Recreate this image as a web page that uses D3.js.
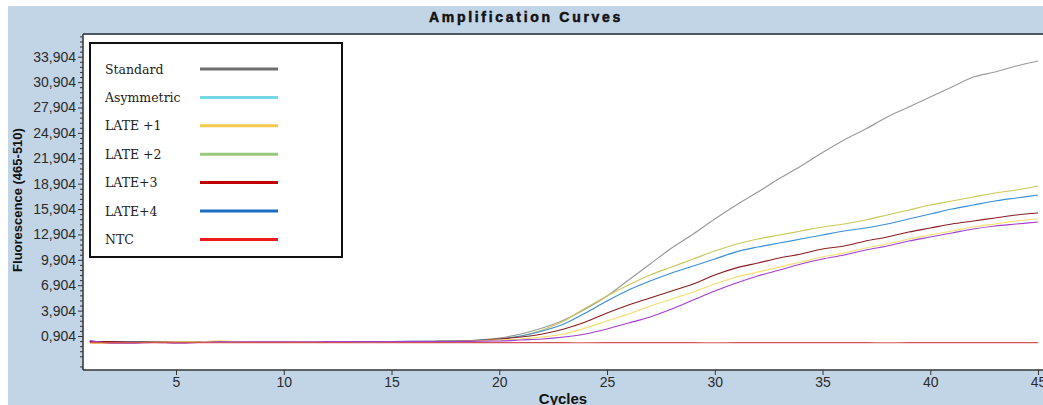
<!DOCTYPE html>
<html>
<head>
<meta charset="utf-8">
<script src="https://cdn.jsdelivr.net/npm/d3@7"></script>
<style>
  body { margin: 0; background: #fff; }
  .tick text { font-family: "Liberation Sans", Arial, sans-serif; font-size: 14px; fill: #2b2b2b; }
  .tick line { stroke: #333; }
  .domain { display: none; }
</style>
</head>
<body>
<div id="vis"></div>
<script>
// cycles 1..45
var cycles = d3.range(1, 46);

var standard = [260,180,160,160,170,215,220,225,230,225,228,232,238,245,250,258,270,300,420,
  668,1140,1849,2794,4094,5630,7520,9411,11301,12955,14728,16382,17918,19501,20990,22573,24061,25361,26779,27960,29142,30323,31505,32096,32805,33395];
var late2 = [220,190,200,215,205,210,230,225,228,232,230,235,238,240,245,250,265,290,380,
  550,904,1613,2676,4212,5630,6930,8111,9056,10002,10947,11750,12365,12837,13310,13782,14137,14609,15200,15791,16382,16854,17327,17799,18154,18627];
var late4 = [240,210,205,200,215,220,222,235,240,238,236,240,245,250,255,262,280,320,400,
  550,904,1495,2322,3621,5039,6339,7402,8347,9175,10002,10850,11419,11892,12365,12837,13310,13664,14137,14728,15318,15909,16382,16854,17209,17563];
var late3 = [250,230,180,200,210,215,225,240,238,235,240,245,240,235,238,245,255,280,360,
  550,786,1140,1731,2558,3621,4567,5394,6221,7048,8111,8950,9529,10120,10592,11183,11538,12128,12601,13192,13664,14137,14491,14846,15200,15436];
var late1 = [20,40,80,190,200,205,320,230,220,225,228,230,235,240,242,248,255,270,330,
  431,550,786,1140,1849,2676,3503,4449,5276,6103,7048,7875,8466,9056,9647,10238,10710,11301,11774,12365,12837,13310,13782,14137,14491,14728];
var asymmetric = [350,60,60,160,50,140,200,210,215,220,225,228,230,232,235,240,245,255,290,
  313,431,550,786,1140,1731,2440,3149,4094,5157,6221,7166,7993,8702,9411,10002,10474,11065,11538,12128,12601,13073,13546,13901,14137,14373];
var ntc = [120,115,112,110,112,110,108,110,112,110,110,112,110,108,110,112,110,110,112,
  110,110,112,110,108,110,110,112,110,110,108,110,112,110,110,110,112,110,108,110,110,112,110,110,110,110];

var curves = [standard, late2, late4, late3, late1, asymmetric, ntc];
var curveColors = ["#9b9b9b", "#c9c85a", "#3b8fd4", "#8a1f22", "#f3df6a", "#a33fd0", "#d25454"];

var legendNames = ["Standard", "Asymmetric", "LATE +1", "LATE +2", "LATE+3", "LATE+4", "NTC"];
var legendColors = ["#6e6e6e", "#74d8e6", "#f2c94c", "#98c97b", "#c00000", "#1b6fc2", "#ee1c1c"];

var yTicks = [904, 3904, 6904, 9904, 12904, 15904, 18904, 21904, 24904, 27904, 30904, 33904];
var yTickLabels = ["0,904", "3,904", "6,904", "9,904", "12,904", "15,904", "18,904", "21,904", "24,904", "27,904", "30,904", "33,904"];
var xTicks = [5, 10, 15, 20, 25, 30, 35, 40, 45];

var W = 1043, H = 405,
  pLeft = 83, pTop = 34, pRight = 1043, pBottom = 370;

var svg = d3.select("#vis").append("svg")
  .attr("width", W).attr("height", H);

svg.append("rect").attr("x", 8).attr("y", 6).attr("width", W - 8).attr("height", H - 6)
  .attr("fill", "#c2d5e6");

svg.append("rect").attr("x", pLeft).attr("y", pTop).attr("width", pRight - pLeft).attr("height", pBottom - pTop)
  .attr("fill", "#fff");

var x = d3.scaleLinear().domain([0.684, 45.23]).range([pLeft, pRight]);
var y = d3.scaleLinear().domain([-3113, 36587]).range([pBottom, pTop]);

svg.append("clipPath").attr("id", "clip").append("rect")
  .attr("x", pLeft).attr("y", pTop).attr("width", pRight - pLeft).attr("height", pBottom - pTop);

var line = d3.line()
  .x(function(d, i) { return x(cycles[i]); })
  .y(function(d) { return y(d); })
  .curve(d3.curveMonotoneX);

svg.append("g").attr("clip-path", "url(#clip)")
  .selectAll("path").data(curves).enter().append("path")
  .attr("d", line)
  .attr("fill", "none")
  .attr("stroke", function(d, i) { return curveColors[i]; })
  .attr("stroke-width", 1.2);

// y axis
var minor = d3.range(904 - 600 * 6, 36587, 600).filter(function(v) { return v > -3113 && (v - 904) % 3000 != 0; });
svg.append("g").attr("transform", "translate(" + pLeft + ",0)")
  .call(d3.axisLeft(y).tickValues(minor).tickSize(3).tickFormat(""));
svg.append("g").attr("transform", "translate(" + pLeft + ",0)")
  .call(d3.axisLeft(y).tickValues(yTicks).tickSize(5).tickPadding(2)
    .tickFormat(function(d, i) { return yTickLabels[i]; }));

// x axis
svg.append("g").attr("transform", "translate(0," + pBottom + ")")
  .call(d3.axisBottom(x).tickValues(xTicks).tickSize(5).tickPadding(2));

// frame lines
svg.append("line").attr("x1", pLeft).attr("x2", pRight).attr("y1", pTop).attr("y2", pTop)
  .attr("stroke", "#4d5863").attr("stroke-width", 2);
svg.append("line").attr("x1", pLeft).attr("x2", pLeft).attr("y1", pTop).attr("y2", pBottom)
  .attr("stroke", "#333").attr("stroke-width", 1.5);
svg.append("line").attr("x1", pLeft).attr("x2", pRight).attr("y1", pBottom).attr("y2", pBottom)
  .attr("stroke", "#333").attr("stroke-width", 1.5);

// titles
svg.append("text").attr("x", 526).attr("y", 22).attr("text-anchor", "middle")
  .style("font-family", "'Liberation Sans', Arial, sans-serif").style("font-weight", "bold")
  .style("font-size", "14px").style("letter-spacing", "2.7px")
  .attr("fill", "#111").attr("stroke", "#111").attr("stroke-width", 0.5)
  .text("Amplification Curves");

svg.append("text").attr("x", 563).attr("y", 404).attr("text-anchor", "middle")
  .style("font-family", "'Liberation Sans', Arial, sans-serif").style("font-weight", "bold")
  .style("font-size", "15px").attr("fill", "#111")
  .text("Cycles");

svg.append("text").attr("transform", "translate(22,200) rotate(-90)").attr("text-anchor", "middle")
  .style("font-family", "'Liberation Sans', Arial, sans-serif").style("font-weight", "bold")
  .style("font-size", "13px").attr("fill", "#111")
  .text("Fluorescence (465-510)");

// legend
var legend = svg.append("g");
legend.append("rect").attr("x", 90).attr("y", 43).attr("width", 252).attr("height", 214)
  .attr("fill", "#fff").attr("stroke", "#111").attr("stroke-width", 2);

var item = legend.selectAll("g.item").data(legendNames).enter().append("g")
  .attr("class", "item")
  .attr("transform", function(d, i) { return "translate(0," + (69 + i * 28.4) + ")"; });

item.append("text").attr("x", 105).attr("y", 4.5)
  .style("font-family", "'DejaVu Serif', serif").style("font-size", "12.5px").attr("fill", "#222")
  .text(function(d) { return d; });

item.append("line").attr("x1", 200).attr("x2", 278).attr("y1", 0).attr("y2", 0)
  .attr("stroke", function(d, i) { return legendColors[i]; })
  .attr("stroke-width", 3);
</script>
</body>
</html>
